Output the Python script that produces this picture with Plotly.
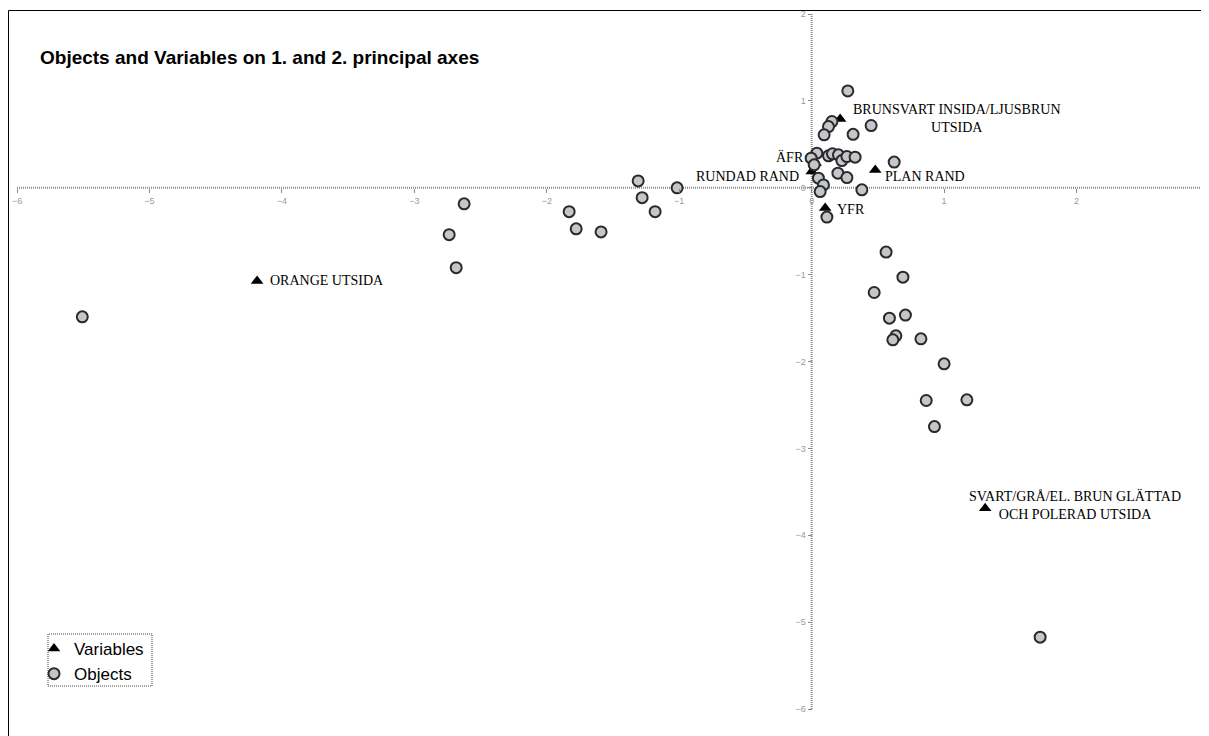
import plotly.graph_objects as go

# Objects (scores on principal axes 1 and 2)
obj_x = [-5.507, -2.737, -2.684, -2.624, -1.831, -1.778, -1.590, -1.310, -1.280, -1.182, -1.016,
         0.273, 0.153, 0.127, 0.094, 0.313, 0.449, 0.039, -0.004, 0.127, 0.157, 0.202, 0.228,
         0.266, 0.328, 0.198, 0.266, 0.051, 0.089, 0.064, 0.379, 0.115, 0.623, 0.019,
         0.562, 0.689, 0.472, 0.587, 0.708, 0.636, 0.613, 0.825, 1.000, 0.865, 1.172, 0.927, 1.725]
obj_y = [-1.486, -0.540, -0.920, -0.185, -0.275, -0.473, -0.508, 0.079, -0.114, -0.275, -0.001,
         1.115, 0.762, 0.704, 0.609, 0.615, 0.716, 0.398, 0.341, 0.367, 0.390, 0.379, 0.313,
         0.359, 0.352, 0.168, 0.117, 0.110, 0.033, -0.044, -0.024, -0.338, 0.295, 0.264,
         -0.741, -1.029, -1.206, -1.501, -1.466, -1.705, -1.751, -1.739, -2.027, -2.449, -2.441, -2.749, -5.173]

# Variables (loadings)
var_names = ["BRUNSVART INSIDA/LJUSBRUN<br>UTSIDA", "PLAN RAND", "YFR", "RUNDAD RAND", "ÄFR",
             "ORANGE UTSIDA", "SVART/GRÅ/EL. BRUN GLÄTTAD<br>OCH POLERAD UTSIDA"]
var_x = [0.215, 0.480, 0.102, 0.000, 0.030, -4.187, 1.310]
var_y = [0.790, 0.205, -0.234, 0.186, 0.285, -1.072, -3.690]

# label placement (pixel offsets / anchors) per variable
label_xanchor = ["left", "left", "left", "right", "right", "left", "center"]
label_xshift = [11, 8, 10, -11, -10, 11, 90]
label_yshift = [1, -7, -1, -5, 6, 0, 3]

x_ticks = [-6, -5, -4, -3, -2, -1, 0, 1, 2, 3]
y_ticks = [-6, -5, -4, -3, -2, -1, 0, 1, 2]

# page body has an 8px margin; plot area on screen spans x 17..1209, y 14..709
PX0, PX1, PY0, PY1 = 17, 1209, 14, 709


def px(x):
    return (x - PX0) / (PX1 - PX0)


def py(y):
    return (PY1 - y) / (PY1 - PY0)


fig = go.Figure()
fig.add_trace(go.Scatter(
    x=var_x, y=var_y, mode="markers", name="Variables",
    marker=dict(symbol="triangle-up", size=11, color="black"),
))
fig.add_trace(go.Scatter(
    x=obj_x, y=obj_y, mode="markers", name="Objects",
    marker=dict(symbol="circle", size=11, color="#c3c7cc", line=dict(color="#2a2a2a", width=2)),
))

for name, x, y, xa, xs, ys in zip(var_names, var_x, var_y, label_xanchor, label_xshift, label_yshift):
    fig.add_annotation(x=x, y=y, text=name, showarrow=False, xanchor=xa, yanchor="middle",
                       xshift=xs, yshift=ys, align="center",
                       font=dict(family="Liberation Serif", size=14, color="black"))

fig.add_annotation(x=px(38), y=py(57), xref="paper", yref="paper",
                   xanchor="left", yanchor="middle",
                   text="<b>Objects and Variables on 1. and 2. principal axes</b>", showarrow=False,
                   font=dict(family="Liberation Sans", size=19, color="black"))

# axis lines drawn through the origin
fig.add_shape(type="line", x0=x_ticks[0], x1=x_ticks[-1], y0=0, y1=0, xref="x", yref="y",
              line=dict(color="#8a8a8a", width=2, dash="1px,1px"), layer="below")
fig.add_shape(type="line", x0=0, x1=0, y0=y_ticks[0], y1=y_ticks[-1], xref="x", yref="y",
              line=dict(color="#8a8a8a", width=2, dash="1px,1px"), layer="below")

# outer chart frame
fig.add_shape(type="rect", xref="paper", yref="paper", x0=px(8.5), x1=1.02, y0=-0.06,
              y1=py(10.5), line=dict(color="black", width=1), fillcolor="rgba(0,0,0,0)")

# legend frame (dotted)
fig.add_shape(type="rect", xref="paper", yref="paper",
              x0=px(48), x1=px(152), y0=py(686), y1=py(634),
              line=dict(color="#444", width=1, dash="1px,1px"), fillcolor="white", layer="below")

fig.update_xaxes(range=[x_ticks[0], x_ticks[-1]], anchor="free", position=6 / 8,
                 showgrid=False, zeroline=False, showline=False,
                 tickmode="array", tickvals=x_ticks, ticks="outside", ticklen=4, tickcolor="#8a8a8a",
                 tickfont=dict(family="Liberation Sans", size=9, color="#9a9a9a"))
fig.update_yaxes(range=[y_ticks[0], y_ticks[-1]], anchor="free", position=6 / 9,
                 showgrid=False, zeroline=False, showline=False,
                 tickmode="array", tickvals=y_ticks, ticks="outside", ticklen=4, tickcolor="#8a8a8a",
                 tickfont=dict(family="Liberation Sans", size=9, color="#9a9a9a"))

fig.update_layout(
    width=1201, height=728,
    margin=dict(l=9, r=0, t=6, b=27, autoexpand=False),
    paper_bgcolor="white", plot_bgcolor="white",
    showlegend=True,
    legend=dict(x=px(34), y=py(631), xanchor="left", yanchor="top",
                bgcolor="rgba(0,0,0,0)", borderwidth=0,
                font=dict(family="Liberation Sans", size=17, color="black"),
                itemwidth=30, tracegroupgap=0),
)

fig.write_html("out.html")
